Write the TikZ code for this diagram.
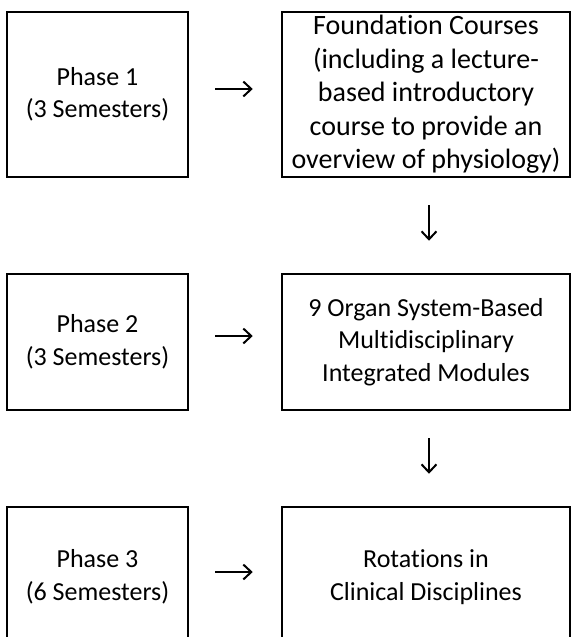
\documentclass[tikz,border=0pt]{standalone}
\usepackage{fontspec}
\setmainfont{Carlito}[Ligatures=NoCommon]
\usetikzlibrary{arrows.meta}

\begin{document}
\begin{tikzpicture}[x=1pt,y=-1pt,->,>={Straight Barb[length=8pt,width=15pt,line width=2pt]},line width=1.8pt]
    \tikzstyle{box}=[draw=black, rectangle, line width=2.5pt, inner sep=0pt, align=center, text=black,
                     font=\fontsize{26}{32.5}\selectfont]
    \tikzstyle{phase}=[style=box, minimum width=181pt]
    \tikzstyle{content}=[style=box, minimum width=288pt]
    \tikzstyle{across}=[shorten <=26pt, shorten >=28pt]
    \tikzstyle{down}=[shorten <=27pt, shorten >=32pt]

    \useasboundingbox (0,0) rectangle (571,637);
    \clip (0,0) rectangle (571,637);

    \node[phase, minimum height=165pt]   (p1) at (97.5,94.5) {Phase 1\\(3 Semesters)};
    \node[content, minimum height=165pt, font=\fontsize{28}{33.5}\selectfont]
                                         (f1) at (426,94.5)  {Foundation Courses\\(including a lecture-\\based introductory\\course to provide an\\overview of physiology)};
    \node[phase, minimum height=136pt]   (p2) at (97.5,342)  {Phase 2\\(3 Semesters)};
    \node[content, minimum height=136pt] (f2) at (426,342)   {9 Organ System-Based\\Multidisciplinary\\Integrated Modules};
    \node[phase, minimum height=140pt]   (p3) at (97.5,577)  {Phase 3\\(6 Semesters)};
    \node[content, minimum height=140pt] (f3) at (426,577)   {Rotations in\\Clinical Disciplines};

    \path
     ([yshift=5.5pt]p1.east) edge[across] ([yshift=5.5pt]f1.west)
     ([yshift=6pt]p2.east)   edge[across] ([yshift=6pt]f2.west)
     ([yshift=5pt]p3.east)   edge[across] ([yshift=5pt]f3.west)
     ([xshift=3pt]f1.south)  edge[down]   ([xshift=3pt]f2.north)
     ([xshift=3pt]f2.south)  edge[down]   ([xshift=3pt]f3.north)
     ;
\end{tikzpicture}
\end{document}
